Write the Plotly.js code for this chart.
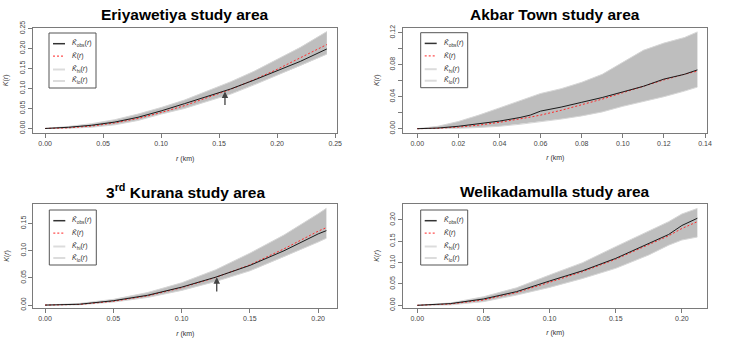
<!DOCTYPE html>
<html>
<head>
<meta charset="utf-8">
<script src="https://cdn.plot.ly/plotly-3.0.1.min.js"></script>
<style>html,body{margin:0;padding:0;background:#fff;}#chart{width:729px;height:342px;}</style>
</head>
<body>
<div id="chart"></div>
<script>
// ---------- Data ----------
const titles = ["<b>Eriyawetiya study area</b>", "<b>Akbar Town study area</b>",
                "<b>3<sup>rd</sup> Kurana study area</b>", "<b>Welikadamulla study area</b>"];
const legendNames = ["<i>K̂</i><sub>obs</sub>(<i>r</i>)", "<i>K̄</i>(<i>r</i>)",
                     "<i>K̂</i><sub>hi</sub>(<i>r</i>)", "<i>K̂</i><sub>lo</sub>(<i>r</i>)"];

// Eriyawetiya
const r1    = [0, 0.02, 0.04, 0.06, 0.08, 0.10, 0.12, 0.14, 0.16, 0.18, 0.20, 0.22, 0.2428];
const obs1  = [0, 0.003, 0.008, 0.016, 0.028, 0.044, 0.062, 0.080, 0.099, 0.121, 0.144, 0.168, 0.199];
const theo1 = [0, 0.0015, 0.006, 0.014, 0.025, 0.040, 0.057, 0.077, 0.098, 0.122, 0.148, 0.177, 0.210];
const hi1   = [0, 0.005, 0.012, 0.022, 0.036, 0.0525, 0.071, 0.093, 0.117, 0.143, 0.172, 0.203, 0.2425];
const lo1   = [0, 0.0005, 0.003, 0.009, 0.020, 0.036, 0.050, 0.068, 0.086, 0.109, 0.134, 0.157, 0.186];

// Akbar Town
const r2    = [0, 0.01, 0.02, 0.03, 0.04, 0.05, 0.055, 0.06, 0.07, 0.08, 0.09, 0.10, 0.11, 0.12, 0.13, 0.1363];
const obs2  = [0, 0.0008, 0.003, 0.0065, 0.0095, 0.014, 0.017, 0.022, 0.027, 0.033, 0.039, 0.046, 0.053, 0.062, 0.068, 0.0735];
const theo2 = [0, 0.0005, 0.002, 0.0045, 0.008, 0.012, 0.0145, 0.017, 0.023, 0.030, 0.037, 0.045, 0.053, 0.061, 0.068, 0.072];
const hi2   = [0, 0.003, 0.009, 0.017, 0.026, 0.035, 0.040, 0.044, 0.050, 0.058, 0.068, 0.083, 0.098, 0.107, 0.114, 0.121];
const lo2   = [0, 0, 0.0004, 0.0015, 0.003, 0.0055, 0.007, 0.009, 0.012, 0.016, 0.021, 0.028, 0.034, 0.040, 0.047, 0.052];

// 3rd Kurana
const r3    = [0, 0.025, 0.05, 0.075, 0.10, 0.125, 0.15, 0.175, 0.20, 0.206];
const obs3  = [0, 0.0015, 0.008, 0.018, 0.033, 0.0514, 0.073, 0.100, 0.131, 0.137];
const theo3 = [0, 0.0012, 0.007, 0.017, 0.032, 0.051, 0.074, 0.1035, 0.136, 0.1425];
const hi3   = [0, 0.003, 0.0105, 0.023, 0.041, 0.065, 0.0955, 0.129, 0.168, 0.178];
const lo3   = [0, 0.0005, 0.0055, 0.014, 0.027, 0.0435, 0.063, 0.089, 0.116, 0.123];

// Welikadamulla
const r4    = [0, 0.025, 0.05, 0.075, 0.10, 0.125, 0.15, 0.175, 0.19, 0.20, 0.2117];
const obs4  = [0, 0.004, 0.0148, 0.032, 0.057, 0.081, 0.110, 0.145, 0.166, 0.187, 0.204];
const theo4 = [0, 0.003, 0.0125, 0.030, 0.054, 0.079, 0.108, 0.142, 0.163, 0.180, 0.196];
const hi4   = [0, 0.0055, 0.020, 0.041, 0.071, 0.100, 0.1375, 0.173, 0.196, 0.214, 0.227];
const lo4   = [0, 0.001, 0.0086, 0.024, 0.042, 0.063, 0.0867, 0.118, 0.141, 0.153, 0.160];

// Tick values / labels
const xt1 = [0, 0.05, 0.10, 0.15, 0.20, 0.25];
const yt1 = [0, 0.05, 0.10, 0.15, 0.20, 0.25];
const xt2 = [0, 0.02, 0.04, 0.06, 0.08, 0.10, 0.12, 0.14];
const yt2 = [0, 0.02, 0.04, 0.06, 0.08, 0.10, 0.12];
const yl2 = ["0.00", " ", "0.04", " ", "0.08", " ", "0.12"];
const xt3 = [0, 0.05, 0.10, 0.15, 0.20];
const yt3 = [0, 0.05, 0.10, 0.15];
const xt4 = [0, 0.05, 0.10, 0.15, 0.20];
const yt4 = [0, 0.05, 0.10, 0.15, 0.20];

// ---------- Build ----------
const W = 729, H = 342;
const px = v => v / W, py = v => 1 - v / H;

const panels = [
  {r: r1, obs: obs1, theo: theo1, hi: hi1, lo: lo1, xt: xt1, yt: yt1, yl: null},
  {r: r2, obs: obs2, theo: theo2, hi: hi2, lo: lo2, xt: xt2, yt: yt2, yl: yl2},
  {r: r3, obs: obs3, theo: theo3, hi: hi3, lo: lo3, xt: xt3, yt: yt3, yl: null},
  {r: r4, obs: obs4, theo: theo4, hi: hi4, lo: lo4, xt: xt4, yt: yt4, yl: null}
];
const xDom = [[0.0455, 0.4625], [0.5532, 0.9702], [0.0457, 0.4627], [0.5532, 0.9702]];
const yDom = [[0.6115, 0.9185], [0.6120, 0.9190], [0.1000, 0.4035], [0.1003, 0.4035]];
const xRng = [[-0.0103, 0.2517], [-0.0068, 0.1411], [-0.0086, 0.2140], [-0.0106, 0.2192]];
const yRng = [[-0.011, 0.2518], [-0.005, 0.12625], [-0.005, 0.186], [-0.0056, 0.2374]];
const legBox = [[49, 33], [420.7, 32.7], [49.3, 210], [420.7, 210]];   // top-left corner, px
const titlePos = [[0.2540, 0.958], [0.7617, 0.958], [0.2540, 0.441], [0.7617, 0.441]];

const FONT = "Liberation Sans, Arial, sans-serif";
const lineStyles = [
  {color: "#1a1a1a", width: 1},
  {color: "#ff2a2a", width: 1, dash: "2px,2px"},
  {color: "#d6d6d6", width: 1},
  {color: "#d6d6d6", width: 1}
];
const legLineStyles = [
  {color: "#333333", width: 1.5},
  {color: "#ff5050", width: 1.2, dash: "2px,2px"},
  {color: "#dcdcdc", width: 2},
  {color: "#dcdcdc", width: 2}
];
const legItemDy = [10.7, 23.2, 36.5, 48];

const traces = [];
const layout = {
  width: W, height: H,
  margin: {l: 0, r: 0, t: 0, b: 0},
  paper_bgcolor: "#ffffff", plot_bgcolor: "#ffffff",
  font: {family: FONT, color: "#333"},
  showlegend: false,
  annotations: [], shapes: []
};

panels.forEach((p, i) => {
  const n = i + 1;
  const xa = n === 1 ? "x" : "x" + n;
  const ya = n === 1 ? "y" : "y" + n;
  // envelope band
  traces.push({
    x: p.r.concat(p.r.slice().reverse()),
    y: p.hi.concat(p.lo.slice().reverse()),
    xaxis: xa, yaxis: ya, type: "scatter", mode: "lines",
    fill: "toself", fillcolor: "#bebebe", line: {width: 0, color: "#bebebe"},
    showlegend: false, hoverinfo: "skip"
  });
  const series = [p.obs, p.theo, p.hi, p.lo];
  [2, 3, 1, 0].forEach(k => {
    traces.push({x: p.r, y: series[k], xaxis: xa, yaxis: ya, type: "scatter", mode: "lines",
      name: legendNames[k], line: lineStyles[k], showlegend: false});
  });

  const axCommon = {
    showline: true, mirror: true, linecolor: "#7a7a7a", linewidth: 1,
    ticks: "outside", ticklen: 4, tickcolor: "#7a7a7a", tickwidth: 1,
    showgrid: false, zeroline: false, automargin: false,
    tickfont: {family: FONT, size: 7, color: "#444"}
  };
  layout[n === 1 ? "xaxis" : "xaxis" + n] = Object.assign({}, axCommon, {
    domain: xDom[i], range: xRng[i], anchor: ya,
    tickmode: "array", tickvals: p.xt, tickformat: ".2f",
    title: {text: "<i>r</i> (km)", font: {family: FONT, size: 7, color: "#333"}, standoff: 9}
  });
  const yax = Object.assign({}, axCommon, {
    domain: yDom[i], range: yRng[i], anchor: xa,
    tickmode: "array", tickvals: p.yt, tickformat: ".2f", tickangle: -90,
    title: {text: "<i>K</i>(<i>r</i>)", font: {family: FONT, size: 7, color: "#333"}, standoff: 9}
  });
  if (p.yl) yax.ticktext = p.yl;
  layout[n === 1 ? "yaxis" : "yaxis" + n] = yax;

  // legend drawn as a compact R-style key
  const [bx, by] = legBox[i];
  layout.shapes.push({type: "rect", xref: "paper", yref: "paper",
    x0: px(bx), x1: px(bx + 47), y0: py(by), y1: py(by + 55),
    line: {color: "#555", width: 1}, fillcolor: "#ffffff", layer: "above"});
  legendNames.forEach((nm, k) => {
    const yy = by + legItemDy[k];
    layout.shapes.push({type: "line", xref: "paper", yref: "paper",
      x0: px(bx + 4), x1: px(bx + 16), y0: py(yy), y1: py(yy),
      line: legLineStyles[k], layer: "above"});
    layout.annotations.push({text: nm, xref: "paper", yref: "paper",
      x: px(bx + 21), y: py(yy), xanchor: "left", yanchor: "middle", showarrow: false,
      font: {family: FONT, size: 7, color: "#333"}});
  });

  layout.annotations.push({
    text: titles[i], xref: "paper", yref: "paper",
    x: titlePos[i][0], y: titlePos[i][1], xanchor: "center", yanchor: "middle",
    showarrow: false, font: {family: FONT, size: 15.5, color: "#000"}
  });
});

// arrows marking the crossing points
layout.annotations.push({
  x: 0.155, y: 0.0925, ax: 0.155, ay: 0.055, xref: "x", yref: "y", axref: "x", ayref: "y",
  showarrow: true, arrowhead: 2, arrowsize: 1, arrowwidth: 1.3, arrowcolor: "#444", text: ""
});
layout.annotations.push({
  x: 0.1257, y: 0.0514, ax: 0.1257, ay: 0.022, xref: "x3", yref: "y3", axref: "x3", ayref: "y3",
  showarrow: true, arrowhead: 2, arrowsize: 1, arrowwidth: 1.3, arrowcolor: "#444", text: ""
});

Plotly.newPlot("chart", traces, layout, {staticPlot: true, displayModeBar: false});
</script>
</body>
</html>
